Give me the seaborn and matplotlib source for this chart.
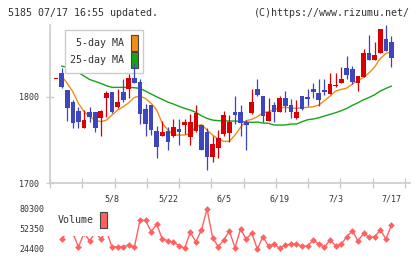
import numpy as np
import matplotlib
matplotlib.use("Agg")
import matplotlib.pyplot as plt
from matplotlib.patches import Patch
import seaborn as sns

# daily candles (the first one is the flat red bar at the left edge)
opens = [1820, 1827, 1808, 1794, 1784, 1764, 1782, 1782, 1776, 1799, 1805,
         1788, 1805, 1809, 1822, 1817, 1786, 1791, 1760, 1755, 1761,
         1755, 1763, 1767, 1753, 1760, 1767, 1759, 1730, 1741, 1757,
         1758, 1782, 1782, 1771, 1781, 1809, 1801, 1772, 1791, 1783,
         1799, 1791, 1776, 1801, 1800, 1809, 1804, 1808, 1803, 1812,
         1816, 1833, 1832, 1816, 1823, 1851, 1842, 1851, 1867, 1863]
highs = [1820, 1833, 1808, 1796, 1788, 1785, 1788, 1782, 1785, 1807, 1806,
         1809, 1821, 1826, 1839, 1820, 1792, 1791, 1766, 1772, 1765,
         1774, 1774, 1774, 1780, 1791, 1767, 1764, 1755, 1762, 1784,
         1779, 1801, 1791, 1773, 1809, 1821, 1801, 1799, 1794, 1801,
         1807, 1797, 1796, 1801, 1809, 1816, 1820, 1820, 1828, 1828,
         1834, 1847, 1836, 1824, 1855, 1871, 1863, 1878, 1883, 1870]
lows = [1820, 1810, 1772, 1764, 1764, 1764, 1771, 1759, 1755, 1777, 1781,
        1787, 1794, 1799, 1816, 1768, 1755, 1756, 1729, 1755, 1738,
        1753, 1744, 1757, 1744, 1759, 1738, 1715, 1725, 1729, 1755,
        1748, 1769, 1755, 1739, 1780, 1801, 1771, 1772, 1771, 1783,
        1783, 1776, 1774, 1785, 1789, 1799, 1789, 1802, 1803, 1811,
        1816, 1820, 1815, 1807, 1823, 1842, 1842, 1851, 1853, 1834]
closes = [1820, 1811, 1787, 1770, 1771, 1773, 1777, 1764, 1784, 1804, 1782,
          1794, 1796, 1822, 1816, 1780, 1769, 1762, 1742, 1759, 1748,
          1765, 1759, 1771, 1771, 1781, 1738, 1730, 1746, 1752, 1779,
          1771, 1779, 1770, 1767, 1794, 1802, 1778, 1782, 1782, 1799,
          1789, 1782, 1782, 1786, 1797, 1806, 1796, 1805, 1815, 1814,
          1821, 1825, 1817, 1824, 1851, 1842, 1848, 1878, 1853, 1845]

# moving averages
ma5 = [np.nan, 1824, 1815.5, 1805.8, 1792.4, 1782.8, 1777, 1773.1, 1771.2, 1773.1, 1778.9,
       1784.7, 1788.5, 1793.1, 1799.3, 1800.8, 1798.1, 1792.4, 1784.7, 1769.3, 1761.6,
       1755.8, 1755.8, 1755.8, 1757.7, 1765.4, 1768.1, 1761.6, 1755.8, 1751.2, 1748.5,
       1748.5, 1755.8, 1764.7, 1772.4, 1773.9, 1777, 1781.6, 1782.8, 1784.7, 1787.4,
       1787.8, 1787, 1786.6, 1787.4, 1787.8, 1788.5, 1790.5, 1795.5, 1800.8, 1806.6,
       1808.5, 1810.1, 1814.7, 1818.9, 1822.4, 1827.8, 1834.7, 1844.3, 1850.1, 1852]
ma25 = [np.nan, 1835.5, 1834, 1831, 1828, 1824, 1820, 1817.8, 1815.5, 1812.8, 1810.9,
        1810.9, 1810.9, 1810.9, 1810.5, 1809.7, 1806.6, 1803.2, 1800, 1797, 1793.9,
        1791.6, 1788.9, 1786.6, 1784.7, 1782, 1778.1, 1775, 1773.1, 1772.4, 1772,
        1772, 1772, 1771.6, 1770.8, 1770.4, 1770.8, 1769.7, 1769.3, 1767.4, 1767.4,
        1767.4, 1768.5, 1768.5, 1771.2, 1773.5, 1774.3, 1775.8, 1777.8, 1779.7, 1781.6,
        1783.9, 1786.6, 1790.1, 1793.1, 1796.6, 1799.3, 1802.4, 1806.6, 1809.7, 1812.4]

volume = [np.nan, 38400, 48000, 47000, 27000, 47000, 35600, 48000, 38400, 49000, 27600,
          27600, 27600, 30000, 26800, 64500, 64500, 48600, 58900, 38400, 36000,
          33800, 29000, 25400, 47700, 34600, 51000, 80300, 40200, 27600, 37000,
          49600, 26200, 52350, 38400, 46300, 24400, 41600, 28600, 31000, 25400,
          30000, 31000, 31000, 28600, 28600, 37000, 31000, 26800, 37000, 29000,
          31000, 41600, 50000, 35600, 46300, 40700, 41600, 51000, 38400, 57900]

date_pos = [10, 20, 30, 40, 50, 60]
date_labels = ["5/8", "5/22", "6/5", "6/19", "7/3", "7/17"]
vol_ticks = [24400, 52350, 80300]

RED = '#d80000'
BLUE = '#3d45bf'
ORANGE = '#f28c16'
GREEN = '#17a317'
VOLC = '#ff6161'
AXC = '#cccccc'
TXT = '#333333'

sns.set_theme(style="white")
plt.rcParams['font.family'] = ['DejaVu Sans Mono']

fig = plt.figure(figsize=(4.2, 2.59), dpi=100)
ax = fig.add_axes([50/420, 1-183.3/259, 360/420, 158.3/259])
axv = fig.add_axes([50/420, 1-253/259, 360/420, 48/259])

idx = np.arange(len(opens))
o = np.array(opens, dtype=float)
c = np.array(closes, dtype=float)
cols = np.where(c >= o, RED, BLUE)

# candles
ax.vlines(idx, lows, highs, colors=cols, lw=0.9, zorder=6)
ax.bar(idx, np.maximum(np.abs(c - o), 1.3), bottom=np.minimum(o, c),
       width=0.84, color=cols, lw=0, zorder=6)

# moving averages
sns.lineplot(x=idx, y=ma5, ax=ax, color=ORANGE, lw=1, zorder=2)
sns.lineplot(x=idx, y=ma25, ax=ax, color=GREEN, lw=1, zorder=2)

xl = ((50 - 56.1) / 5.59, (410 - 56.1) / 5.59)
ax.set_xlim(*xl)
ax.set_ylim(1700, 1883)
for s in ['top', 'right']:
    ax.spines[s].set_visible(False)
for s in ['left', 'bottom']:
    ax.spines[s].set_color(AXC)
    ax.spines[s].set_linewidth(1.2)
ax.set_yticks([1700, 1800])
ax.set_yticklabels(["1700", "1800"])
ax.tick_params(axis='y', direction='inout', length=5.8, width=1, color=AXC,
               labelsize=6, labelcolor=TXT, pad=4.8, left=True)
ax.set_xticks(date_pos)
ax.set_xticklabels(date_labels)
ax.tick_params(axis='x', which='major', length=0, labelsize=6, labelcolor=TXT, pad=8.4)
ax.set_xticks((np.linspace(50, 405, 12) - 56.1) / 5.59, minor=True)
ax.tick_params(axis='x', which='minor', direction='inout', length=6.5, width=1,
               color=AXC, bottom=True)
ax.set_xlabel("")
ax.set_ylabel("")

leg = ax.legend(handles=[Patch(facecolor=ORANGE, edgecolor='#444444', lw=0.8, label='5-day MA'),
                         Patch(facecolor=GREEN, edgecolor='#444444', lw=0.8, label='25-day MA')],
                loc='upper left', bbox_to_anchor=(65/420, 1-30/259),
                bbox_transform=fig.transFigure, borderaxespad=0, markerfirst=False,
                fontsize=7.2, handlelength=0.67, handleheight=2.08, handletextpad=0.7,
                labelspacing=0.1, borderpad=0.5, frameon=True, fancybox=False,
                framealpha=1, edgecolor=AXC, facecolor='white')
leg.get_frame().set_linewidth(1)
for t in leg.get_texts():
    t.set_color(TXT)

# volume panel
sns.lineplot(x=idx, y=volume, ax=axv, color=VOLC, lw=1, marker='D',
             markersize=3.4, markeredgewidth=0, zorder=2)
axv.set_xlim(*xl)
axv.set_ylim(18810, 85890)
for s in axv.spines.values():
    s.set_visible(False)
axv.set_xticks([])
axv.set_yticks(vol_ticks)
axv.set_yticklabels([str(v) for v in vol_ticks])
axv.tick_params(axis='y', length=0, labelsize=6, labelcolor=TXT, pad=4.3)
axv.set_xlabel("")
axv.set_ylabel("")
vleg = axv.legend(handles=[Patch(facecolor=VOLC, edgecolor='#444444', lw=0.8, label='Volume')],
                  loc='upper left', bbox_to_anchor=(50/420, 1-205/259),
                  bbox_transform=fig.transFigure, borderaxespad=0, markerfirst=False,
                  fontsize=7.2, handlelength=0.67, handleheight=2.02, handletextpad=0.67,
                  borderpad=0.75, frameon=True, fancybox=False, framealpha=1,
                  edgecolor='none', facecolor='white')
for t in vleg.get_texts():
    t.set_color(TXT)

fig.text(8/420, 1-12.5/259, "5185 07/17 16:55 updated.", fontsize=7.2, color=TXT, va='center')
fig.text(410/420, 1-12.5/259, "(C)https://www.rizumu.net/", fontsize=7.2, color=TXT,
         va='center', ha='right')

fig.savefig("out.png", dpi=100)
